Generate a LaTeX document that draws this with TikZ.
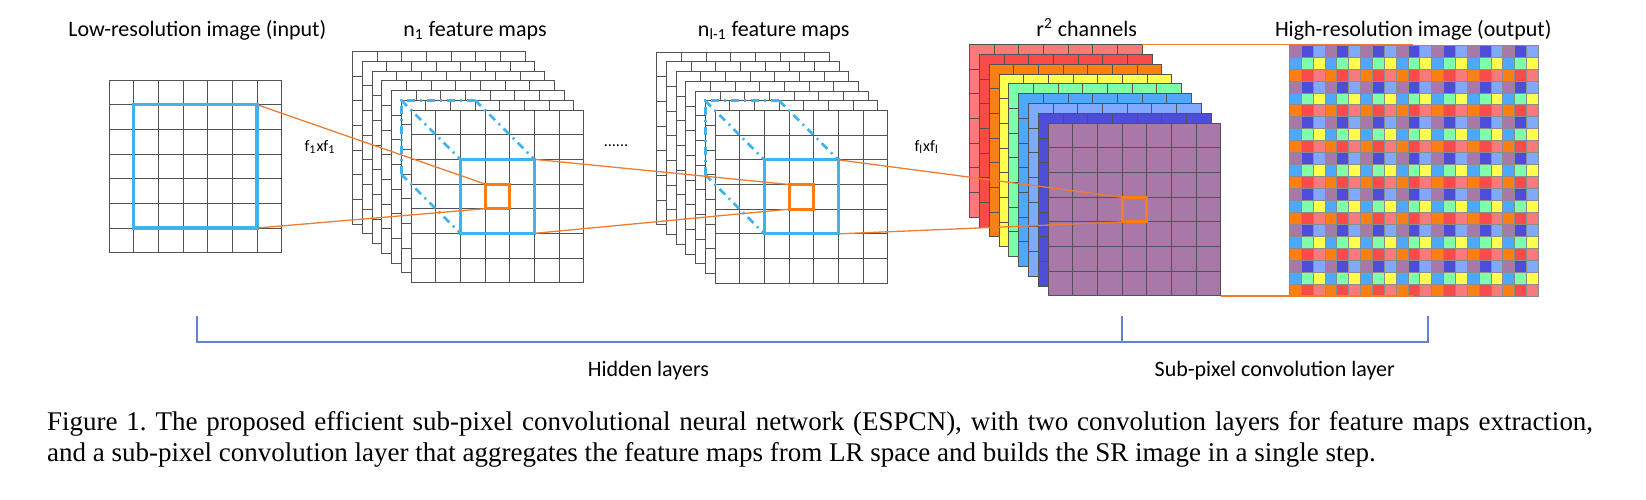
\documentclass[tikz,border=0pt]{standalone}
\usepackage{fontspec}
\setmainfont{Carlito}
\newfontfamily\capfont{Liberation Serif}
\usepackage{tikz}
\usetikzlibrary{positioning}
\frenchspacing

\definecolor{ch1}{RGB}{248,122,122}
\definecolor{ch2}{RGB}{250,75,75}
\definecolor{ch3}{RGB}{250,128,20}
\definecolor{ch4}{RGB}{255,255,80}
\definecolor{ch5}{RGB}{128,255,168}
\definecolor{ch6}{RGB}{77,168,255}
\definecolor{ch7}{RGB}{128,168,255}
\definecolor{ch8}{RGB}{77,77,216}
\definecolor{ch9}{RGB}{168,120,168}
\definecolor{winblue}{RGB}{64,178,240}
\definecolor{pixorange}{RGB}{250,125,20}
\definecolor{linkorange}{RGB}{237,125,49}
\definecolor{braceblue}{RGB}{100,130,210}

\newcommand{\cellsz}{24.67}
\newcommand{\cellpt}{12.335pt}
% one 7x7 map, top left corner at (#1,#2)
\newcommand{\fmap}[3]{%
  \filldraw[gridline,fill=#3] (#1,#2) rectangle ++(7*\cellsz,7*\cellsz);
  \foreach \g in {1,...,6}{
    \draw[gridline] (#1+\g*\cellsz,#2) -- ++(0,7*\cellsz);
    \draw[gridline] (#1,#2+\g*\cellsz) -- ++(7*\cellsz,0);
  }}

\begin{document}
\begin{tikzpicture}[
x=0.5pt,y=-0.5pt,
every node/.style={font=\fontsize{11}{13}\selectfont},
gridline/.style={draw=black!68,line width=0.5pt},
winbox/.style={draw=winblue,line width=1.6pt,inner sep=0pt,outer sep=0pt,anchor=north west},
pixbox/.style={draw=pixorange,line width=1.5pt,inner sep=0pt,outer sep=0pt,anchor=north west,
  minimum size=\cellpt},
basewin/.style={draw=winblue,line width=1.4pt,dash pattern=on 4pt off 2.5pt on 1pt off 2.5pt},
link/.style={draw=linkorange,line width=0.65pt},
brace/.style={draw=braceblue,line width=1pt},
smalltxt/.style={font=\fontsize{8}{9}\selectfont},
captxt/.style={anchor=base west,inner sep=0pt,font=\capfont\fontsize{13.5}{15}\selectfont}
]
\useasboundingbox (0,0) rectangle (1646,499);

% Low-resolution input
\fmap{109}{80}{white}
\node[winbox,minimum size={5*\cellpt}] (lrwin) at (109+\cellsz,80+\cellsz) {};

% n1 feature maps
\foreach \k in {0,...,6}
  \fmap{352.5+\k*9.75}{51.5+\k*9.75}{white}
\node[winbox,minimum size={3*\cellpt}] (fawin) at (411+2*\cellsz,110+2*\cellsz) {};
\node[pixbox] (fapix) at (411+3*\cellsz,110+3*\cellsz) {};
\coordinate (fabaseA) at (401.25,100.25);
\coordinate (fabaseB) at (475.25,100.25);
\coordinate (fabaseC) at (401.25,174.25);

% n(l-1) feature maps
\foreach \k in {0,...,6}
  \fmap{656.7+\k*9.72}{52.2+\k*9.72}{white}
\node[winbox,minimum size={3*\cellpt}] (flwin) at (715+2*\cellsz,110.5+2*\cellsz) {};
\node[pixbox] (flpix) at (715+3*\cellsz,110.5+3*\cellsz) {};
\coordinate (flbaseA) at (705.3,100.8);
\coordinate (flbaseB) at (779.3,100.8);
\coordinate (flbaseC) at (705.3,174.8);

% r^2 channels
\foreach \k [count=\n] in {0,...,8}
  \fmap{969.5+\k*9.85}{44.5+\k*9.85}{ch\n}
\node[pixbox] (chpix) at (1048.3+3*\cellsz,123.3+3*\cellsz) {};
\coordinate (chtop) at (1142.2,44.5);
\coordinate (chbot) at (1221,296);

% High-resolution output
\foreach \j in {0,...,20}
  \foreach \i in {0,...,20}{
    \pgfmathtruncatemacro{\c}{9-3*mod(\j,3)-mod(\i,3)}
    \filldraw[fill=ch\c,draw=black!45,line width=0.3pt]
      (1289.3+\i*11.857,45+\j*11.952) rectangle ++(11.857,11.952);
  }
\coordinate (hrtop) at (1413,44.5);
\coordinate (hrbot) at (1413,296);

% Receptive fields
\draw[basewin] (fabaseB) -- (fabaseA) -- (fabaseC);
\draw[basewin] (fabaseA) -- (fawin.north west);
\draw[basewin] (fabaseB) -- (fawin.north east);
\draw[basewin] (fabaseC) -- (fawin.south west);
\draw[basewin] (flbaseB) -- (flbaseA) -- (flbaseC);
\draw[basewin] (flbaseA) -- (flwin.north west);
\draw[basewin] (flbaseB) -- (flwin.north east);
\draw[basewin] (flbaseC) -- (flwin.south west);

% Links
\draw[link] (lrwin.north east) -- (fapix.north west);
\draw[link] (lrwin.south east) -- (fapix.south west);
\draw[link] (fawin.north east) -- (flpix.north west);
\draw[link] (fawin.south east) -- (flpix.south west);
\draw[link] (flwin.north east) -- (chpix.north west);
\draw[link] (flwin.south east) -- (chpix.south west);
\draw[link] (chtop) -- (hrtop);
\draw[link] (chbot) -- (hrbot);

% Labels
\node[anchor=base] (lrlabel) at (197.3,36.7) {Low-resolution image (input)};
\node[anchor=base] (falabel) at (475,36.7) {n\textsubscript{1} feature maps};
\node[anchor=base] (fllabel) at (773.7,36.7) {n\textsubscript{l-1} feature maps};
\node[anchor=base] (chlabel) at (1086.7,36.7) {r\textsuperscript{2} channels};
\node[anchor=base] (hrlabel) at (1413.3,36.7) {High-resolution image (output)};
\node[smalltxt] (kalabel) at (320,147) {f\textsubscript{1}xf\textsubscript{1}};
\node[smalltxt] (dots) at (616,146) {......};
\node[smalltxt] (kllabel) at (926.7,147) {f\textsubscript{l}xf\textsubscript{l}};

% Brackets
\coordinate (brA) at (197,316);
\coordinate (brB) at (1122.3,316);
\coordinate (brC) at (1427.7,316);
\draw[brace] (brA) -- (brA |- 0,341.5) -- (brC |- 0,341.5) -- (brC);
\draw[brace] (brB) -- (brB |- 0,341.5);
\node[anchor=base] (hidden) at (648.4,376) {Hidden layers};
\node[anchor=base] (subpix) at (1274.8,376) {Sub-pixel convolution layer};

% Caption
\node[captxt] (capA) at (46.7,430)
{\hbox to 773pt{Figure 1. The proposed efficient sub-pixel convolutional neural network (ESPCN), with two convolution layers for feature maps extraction,}};
\node[captxt] (capB) at (46.7,461.7)
{and a sub-pixel convolution layer that aggregates the feature maps from LR space and builds the SR image in a single step.};

\end{tikzpicture}
\end{document}
